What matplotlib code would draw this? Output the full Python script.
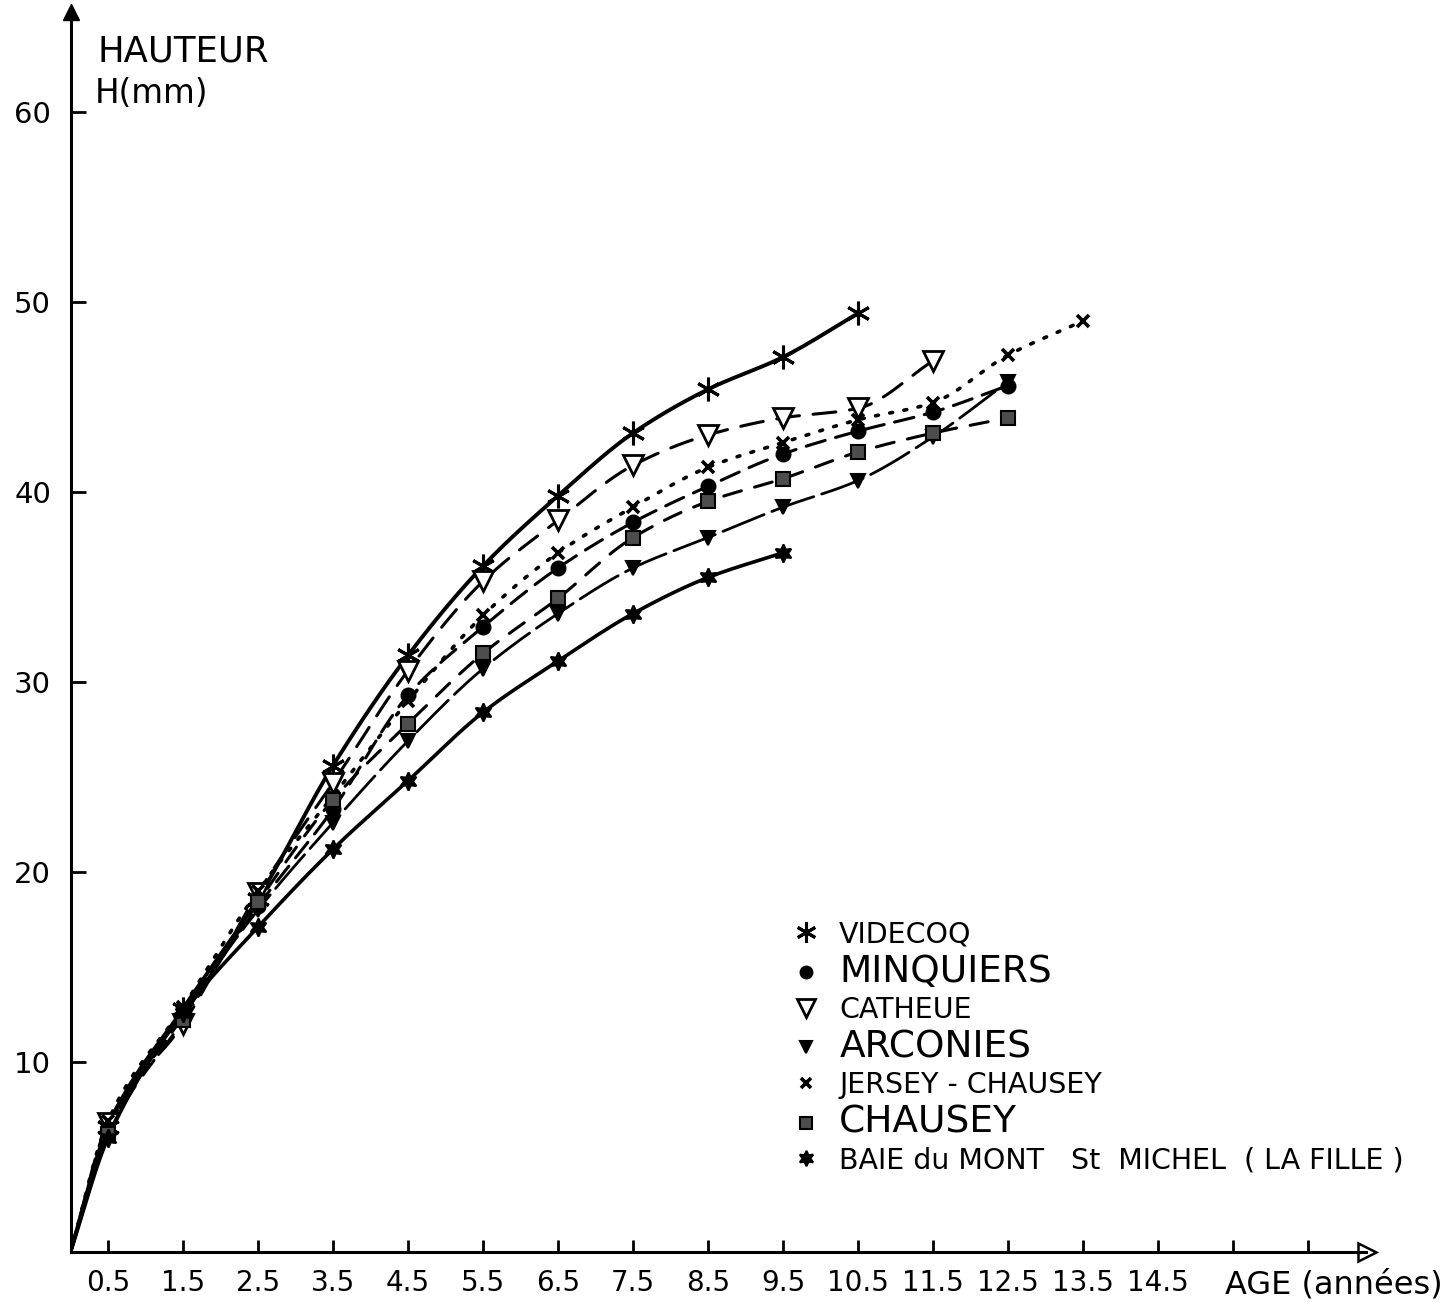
import numpy as np
import matplotlib
matplotlib.use('Agg')
import matplotlib.pyplot as plt
from matplotlib.lines import Line2D

# ages (années) at which heights were measured
AGES = [0.5, 1.5, 2.5, 3.5, 4.5, 5.5, 6.5, 7.5, 8.5, 9.5, 10.5, 11.5, 12.5, 13.5]

# hauteur H (mm) per station
videcoq = [6.6, 12.8, 18.6, 25.6, 31.4, 36.1, 39.8, 43.1, 45.4, 47.1, 49.4]
minquiers = [6.3, 12.4, 18.2, 23.3, 29.3, 32.9, 36.0, 38.4, 40.3, 42.0, 43.2, 44.2, 45.6]
catheue = [6.8, 12.0, 18.9, 24.7, 30.6, 35.3, 38.5, 41.4, 43.0, 43.9, 44.4, 46.9]
arconies = [6.4, 12.6, 18.0, 22.6, 26.9, 30.7, 33.6, 36.0, 37.6, 39.2, 40.6, 42.9, 45.8]
jersey_chausey = [6.9, 12.9, 19.0, 24.0, 29.0, 33.5, 36.8, 39.2, 41.3, 42.6, 43.8, 44.7, 47.2, 49.0]
chausey = [6.2, 12.2, 18.4, 23.8, 27.8, 31.5, 34.4, 37.6, 39.5, 40.7, 42.1, 43.1, 43.9]
baie_st_michel = [6.0, 12.6, 17.1, 21.2, 24.8, 28.4, 31.1, 33.6, 35.5, 36.8]

NAMES = ['VIDECOQ', 'MINQUIERS', 'CATHEUE', 'ARCONIES', 'JERSEY - CHAUSEY',
         'CHAUSEY', 'BAIE du MONT   St  MICHEL  ( LA FILLE )']
SERIES = [videcoq, minquiers, catheue, arconies, jersey_chausey, chausey, baie_st_michel]

# style per station: linestyle, marker, marker size, face colour, legend font size
STYLES = [
    dict(ls='-', lw=2.8, marker=(6, 2, 0), ms=17, mfc='k', mew=2.2, fs=20.5),
    dict(ls=(0, (6.5, 3.5)), lw=2.2, marker='o', ms=10, mfc='k', mew=1.5, fs=27),
    dict(ls=(0, (7.5, 4.5)), lw=2.2, marker='v', ms=15, mfc='white', mew=2.0, fs=20.5),
    dict(ls=(0, (16, 3)), lw=2.0, marker='v', ms=9.5, mfc='k', mew=1.5, fs=27),
    dict(ls=(0, (0.8, 3.2)), lw=2.6, marker='x', ms=9, mfc='k', mew=2.6, fs=20.5),
    dict(ls=(0, (6, 4.5)), lw=2.2, marker='s', ms=9.5, mfc='0.3', mew=1.5, fs=27),
    dict(ls='-', lw=2.6, marker=(6, 1, 0), ms=13, mfc='k', mew=1.5, fs=20.5),
]


def pchip(x, y, num=25):
    """monotone cubic curve through the points, like the hand drawn curves"""
    x = np.asarray(x, float)
    y = np.asarray(y, float)
    h = np.diff(x)
    d = np.diff(y) / h
    m = np.zeros_like(y)
    m[0], m[-1] = d[0], d[-1]
    for k in range(1, len(x) - 1):
        if d[k - 1] * d[k] > 0:
            w1 = 2 * h[k] + h[k - 1]
            w2 = h[k] + 2 * h[k - 1]
            m[k] = (w1 + w2) / (w1 / d[k - 1] + w2 / d[k])
    xs, ys = [], []
    for k in range(len(x) - 1):
        t = np.linspace(0, 1, num, endpoint=False)
        h00 = 2 * t**3 - 3 * t**2 + 1
        h10 = t**3 - 2 * t**2 + t
        h01 = -2 * t**3 + 3 * t**2
        h11 = t**3 - t**2
        xs.append(x[k] + t * h[k])
        ys.append(h00 * y[k] + h10 * h[k] * m[k] + h01 * y[k + 1] + h11 * h[k] * m[k + 1])
    xs.append([x[-1]])
    ys.append([y[-1]])
    return np.concatenate(xs), np.concatenate(ys)


fig = plt.figure(figsize=(14.53, 13.02), dpi=100)
ax = fig.add_axes([70.5 / 1453, 50 / 1302, 1296 / 1453, 1240 / 1302])

handles = []
for vals, st in zip(SERIES, STYLES):
    ages = AGES[:len(vals)]
    # every curve leaves from the origin
    cx, cy = pchip([0] + ages, [0] + vals)
    ax.plot(cx, cy, color='k', ls=st['ls'], lw=st['lw'], solid_capstyle='round',
            dash_capstyle='round', zorder=2)
    ax.plot(ages, vals, ls='none', marker=st['marker'], ms=st['ms'], mfc=st['mfc'],
            mec='k', mew=st['mew'], zorder=3)
    handles.append(Line2D([], [], ls='none', marker=st['marker'], ms=st['ms'] * 0.85,
                          mfc=st['mfc'], mec='k', mew=st['mew']))

ax.set_xlim(0, 17.28)
ax.set_ylim(0, 65.26)

for s in ['top', 'right']:
    ax.spines[s].set_visible(False)
for s in ['left', 'bottom']:
    ax.spines[s].set_linewidth(2.2)

# arrow heads on the axes
ax.plot(1, 0, marker='>', ms=13, mfc='white', mec='k', mew=1.8,
        transform=ax.get_yaxis_transform(), clip_on=False)
ax.plot(0, 1, marker='^', ms=12, color='k', transform=ax.get_xaxis_transform(), clip_on=False)

xt = np.arange(0.5, 17.0, 1.0)
ax.set_xticks(xt)
ax.set_xticklabels([('%.1f' % v) if v < 15 else '' for v in xt])
ax.set_yticks([10, 20, 30, 40, 50, 60])
ax.tick_params(axis='x', direction='in', length=9, width=2, labelsize=20, pad=12)
ax.tick_params(axis='y', direction='in', length=11, width=2, labelsize=21, pad=14)

fig.text(97 / 1453, 1 - 61 / 1302, 'HAUTEUR', fontsize=25.5, va='baseline')
fig.text(95 / 1453, 1 - 103 / 1302, 'H(mm)', fontsize=23.5, va='baseline')
fig.text(1225 / 1453, 1 - 1293 / 1302, 'AGE (années)', fontsize=23, va='baseline')

leg = fig.legend(handles, NAMES, loc='upper left', bbox_to_anchor=(778 / 1453, 1 - 906 / 1302),
                 frameon=False, handlelength=1.0, handletextpad=0.65, labelspacing=0.2,
                 borderpad=0, fontsize=20.5)
for t, st in zip(leg.get_texts(), STYLES):
    t.set_fontsize(st['fs'])

fig.savefig('out.png', dpi=100)
